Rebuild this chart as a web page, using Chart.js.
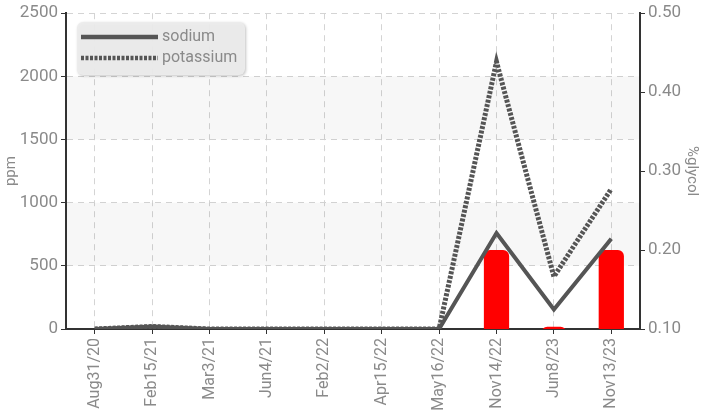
<!DOCTYPE html>
<html>
<head>
<meta charset="utf-8">
<script src="https://cdn.jsdelivr.net/npm/chart.js@4.4.1/dist/chart.umd.min.js"></script>
<style>
  html, body { margin: 0; padding: 0; background: #fff; }
  #wrap { width: 703px; height: 413px; }
</style>
</head>
<body>
<div id="wrap"><canvas id="myChart" width="703" height="413"></canvas></div>
<script>
// data
const dates = ['Aug31/20', 'Feb15/21', 'Mar3/21', 'Jun4/21', 'Feb2/22', 'Apr15/22', 'May16/22', 'Nov14/22', 'Jun8/23', 'Nov13/23'];
const sodium = [0, 20, 0, 0, 0, 0, 0, 760, 155, 715];
const potassium = [0, 20, 0, 0, 0, 0, 0, 2115, 415, 1110];
const glycol = [null, null, null, null, null, null, null, 0.2, 0.103, 0.2];

const fontFam = "Roboto, 'DejaVu Sans', sans-serif";
const grey = '#8a8a8a';

// light bands behind the plot
const bandPlugin = {
  id: 'bands',
  beforeDatasetsDraw(chart) {
    const y = chart.scales.y, a = chart.chartArea, c = chart.ctx;
    c.save();
    c.fillStyle = 'rgba(0,0,0,0.03)';
    [[1500, 2000], [500, 1000]].forEach(b => {
      c.fillRect(a.left, y.getPixelForValue(b[1]), a.right - a.left, y.getPixelForValue(b[0]) - y.getPixelForValue(b[1]));
    });
    c.restore();
  }
};

// legend drawn inside the plot, top left
const legendPlugin = {
  id: 'innerLegend',
  afterDraw(chart) {
    const c = chart.ctx;
    const x = 77, y = 22, w = 168, h = 53;
    c.save();
    c.shadowColor = 'rgba(0,0,0,0.25)';
    c.shadowBlur = 3;
    c.shadowOffsetX = 1;
    c.shadowOffsetY = 1;
    c.fillStyle = 'rgba(236,236,236,0.95)';
    c.beginPath();
    c.roundRect(x, y, w, h, 6);
    c.fill();
    c.shadowColor = 'transparent';
    const items = [
      {label: 'sodium', dash: [], y: 37},
      {label: 'potassium', dash: [3, 1.5], y: 58}
    ];
    items.forEach(it => {
      c.strokeStyle = '#555';
      c.lineWidth = 4.5;
      c.setLineDash(it.dash);
      c.beginPath();
      c.moveTo(81, it.y);
      c.lineTo(158, it.y);
      c.stroke();
      c.setLineDash([]);
      c.fillStyle = grey;
      c.font = '16px ' + fontFam;
      c.textBaseline = 'middle';
      c.fillText(it.label, 162, it.y);
    });
    c.restore();
  }
};

const ctx = document.getElementById('myChart');
new Chart(ctx, {
  type: 'bar',
  data: {
    labels: dates,
    datasets: [
      {
        type: 'line', label: 'sodium', data: sodium, yAxisID: 'y',
        borderColor: '#555', borderWidth: 4, pointRadius: 0, tension: 0, order: 1
      },
      {
        type: 'line', label: 'potassium', data: potassium, yAxisID: 'y',
        borderColor: '#555', borderWidth: 5, borderDash: [3, 1.5], pointRadius: 0, tension: 0, order: 0
      },
      {
        type: 'bar', label: '%glycol', data: glycol, yAxisID: 'y1',
        backgroundColor: '#ff0000', borderRadius: 6, borderSkipped: false,
        barPercentage: 0.44, categoryPercentage: 1, order: 2
      }
    ]
  },
  plugins: [bandPlugin, legendPlugin],
  options: {
    responsive: false,
    animation: false,
    layout: { padding: { top: 11, right: 0, left: 0, bottom: 0 } },
    plugins: { legend: { display: false }, tooltip: { enabled: false } },
    scales: {
      x: {
        offset: true,
        afterFit(s) { s.height = 84; },
        grid: { offset: false, color: '#d4d4d4', tickColor: '#333', tickLength: 5, tickBorderDash: [] },
        border: { color: '#333', width: 2, dash: [6, 5] },
        ticks: { color: grey, font: { family: fontFam, size: 16 }, maxRotation: 90, minRotation: 90, autoSkip: false, padding: 4 }
      },
      y: {
        position: 'left', min: 0, max: 2500,
        afterFit(s) { s.width = 66; },
        grid: { color: '#d4d4d4', tickColor: '#333', tickLength: 5, tickBorderDash: [] },
        border: { color: '#333', width: 2, dash: [6, 5] },
        ticks: { stepSize: 500, color: grey, font: { family: fontFam, size: 17 }, padding: 3, callback: v => String(v) },
        title: { display: true, text: 'ppm', color: grey, font: { family: fontFam, size: 15 }, padding: 2 }
      },
      y1: {
        position: 'right', min: 0.1, max: 0.5,
        afterFit(s) { s.width = 63; },
        grid: { drawOnChartArea: false, tickColor: '#333', tickLength: 5 },
        border: { color: '#333', width: 2 },
        ticks: { stepSize: 0.1, color: grey, font: { family: fontFam, size: 17 }, padding: 3, callback: v => v.toFixed(2) },
        title: { display: true, text: '%glycol', color: grey, font: { family: fontFam, size: 15 }, padding: 2 }
      }
    }
  }
});
</script>
</body>
</html>
